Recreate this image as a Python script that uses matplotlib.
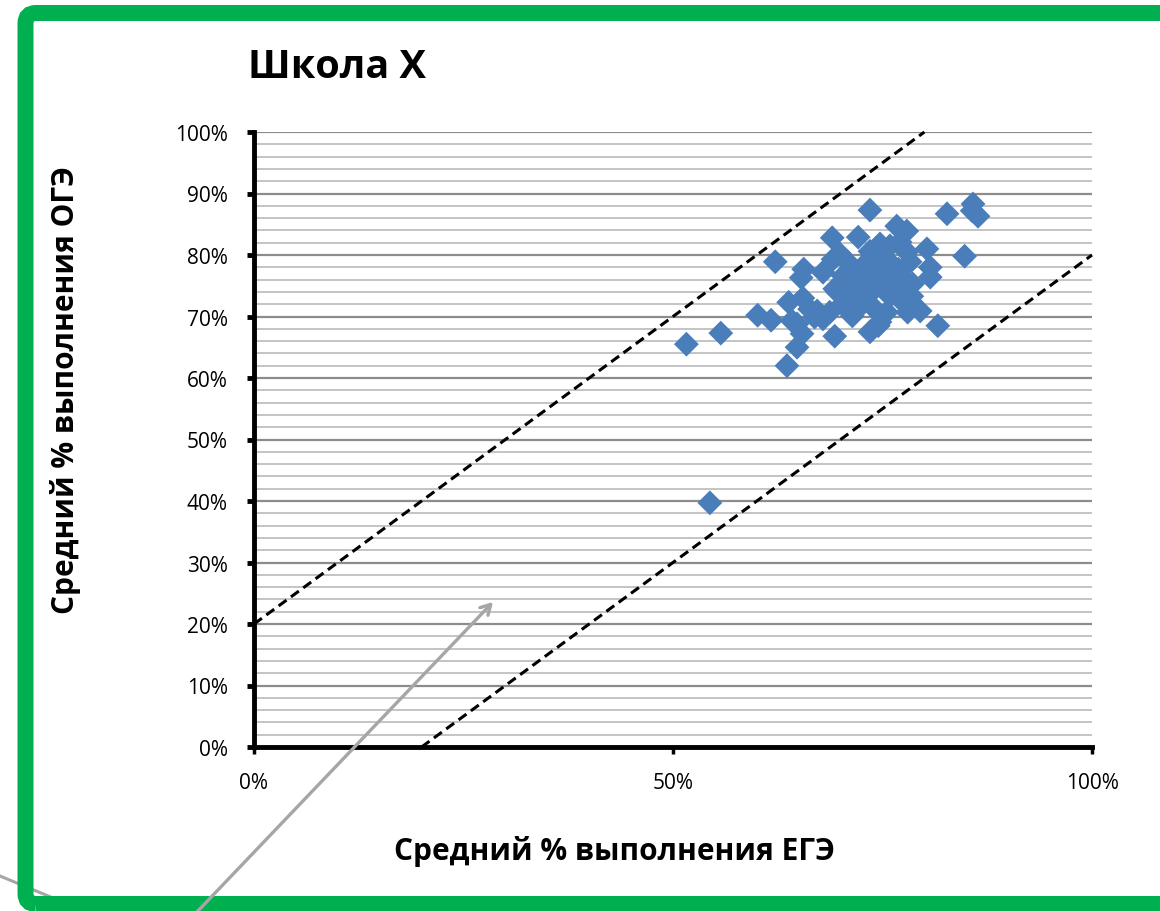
import matplotlib
matplotlib.use("Agg")
import matplotlib.pyplot as plt
from matplotlib.patches import FancyBboxPatch, FancyArrowPatch
from matplotlib.lines import Line2D
import numpy as np

plt.rcParams['font.family'] = ['Open Sans', 'DejaVu Sans']

# ---- data (percent) ----
ege = [51.6, 55.7, 54.4, 63.6, 62.2, 60.1, 61.7, 63.8, 65.5, 65.6, 65.3, 64.2, 65.4, 64.8,
       69.0, 72.1, 73.5, 69.9, 69.1, 67.9, 70.8, 69.3, 67.2, 67.9, 68.7, 69.6, 70.2, 71.4,
       72.3, 73.5, 74.7, 73.5, 74.7, 75.5, 73.9, 74.7, 73.2, 75.5, 76.3, 76.3, 76.7, 77.9,
       77.1, 77.9, 78.3, 78.6, 78.0, 78.0, 79.5, 80.3, 80.7, 80.7, 81.6, 82.7, 84.8, 85.8,
       85.7, 86.4, 71.5, 72.7, 74.3, 72.3, 73.2, 75.9, 70.3, 71.1, 75.9, 77.1, 74.5, 69.3,
       78.3, 78.5, 72.6, 74.1, 71.7, 70.5, 75.3, 73.3, 74.7, 66.9, 64.8, 66.3, 76.3, 77.1,
       76.9]
oge = [65.5, 67.3, 39.7, 62.0, 78.9, 70.2, 69.4, 72.3, 73.0, 77.7, 76.3, 69.3, 67.2, 65.0,
       82.8, 82.9, 87.3, 80.2, 79.3, 77.2, 78.9, 66.8, 70.9, 69.6, 70.7, 74.0, 72.0, 70.1,
       75.6, 80.6, 79.8, 67.5, 69.1, 70.7, 74.5, 75.6, 76.6, 77.2, 78.2, 74.5, 84.7, 83.9,
       82.1, 80.5, 78.9, 75.3, 73.7, 70.7, 70.9, 81.0, 78.0, 76.4, 68.5, 86.7, 79.8, 88.3,
       87.2, 86.3, 77.2, 78.2, 78.2, 73.3, 73.3, 73.3, 76.6, 75.6, 81.5, 76.6, 68.5, 74.5,
       75.0, 73.3, 72.0, 71.2, 73.7, 75.3, 78.5, 79.0, 81.8, 69.9, 68.8, 71.2, 76.1, 72.8,
       77.7]

upper_x = [0, 80]
upper_y = [20, 100]
lower_x = [20, 100]
lower_y = [0, 80]

x_ticks = [0, 50, 100]
x_labels = ['0%', '50%', '100%']
y_ticks = list(range(0, 101, 10))
y_labels = [f'{v}%' for v in y_ticks]

title = 'Школа X'
xlabel = 'Средний % выполнения ЕГЭ'
ylabel = 'Средний % выполнения ОГЭ'

W, H = 1160, 912
fig = plt.figure(figsize=(W / 100, H / 100), dpi=100)
fig.patch.set_facecolor('white')

# decorative gray line behind border
fig.add_artist(Line2D([0 / W, 70 / W], [1 - 877 / H, 1 - 906 / H], transform=fig.transFigure,
                      color='#A6A6A6', lw=2.2, zorder=1))

# green rounded border
border = FancyBboxPatch((25.5 / W, 1 - 905 / H), (W + 40) / W, (905 - 14) / H,
                        boxstyle='round,pad=0,rounding_size=0.009',
                        transform=fig.transFigure, fill=False,
                        edgecolor='#00B050', lw=11.5, zorder=2, mutation_aspect=W / H)
fig.add_artist(border)

ax = fig.add_axes([254 / W, 1 - 748 / H, (1092 - 254) / W, (748 - 133) / H])
ax.set_facecolor('none')
ax.set_xlim(0, 100)
ax.set_ylim(0, 100)

# grid
for v in np.arange(2, 101, 2):
    major = (v % 10 == 0)
    ax.axhline(v, color='#8C8C8C' if major else '#BFBFBF', lw=1.6 if major else 1.3, zorder=1)

ax.plot(upper_x, upper_y, color='black', lw=2.2, ls=(0, (3.2, 1.8)), zorder=3, clip_on=False)
ax.plot(lower_x, lower_y, color='black', lw=2.2, ls=(0, (3.2, 1.8)), zorder=3, clip_on=False)

ax.scatter(ege, oge, marker='D', s=160, color='#4A7EBB', edgecolors='none', zorder=4)

for s in ['top', 'right']:
    ax.spines[s].set_visible(False)
for s in ['left', 'bottom']:
    ax.spines[s].set_linewidth(3.5)
    ax.spines[s].set_color('black')
    ax.spines[s].set_zorder(5)

ax.set_xticks(x_ticks)
ax.set_xticklabels(x_labels, fontsize=15)
ax.set_yticks(y_ticks)
ax.set_yticklabels(y_labels, fontsize=15)
ax.tick_params(axis='y', direction='out', length=5, width=3.5, pad=14)
ax.tick_params(axis='x', direction='out', length=5, width=2.5, pad=13)

fig.text(248 / W, 1 - 68 / H, title, fontsize=28.5, fontweight='bold', va='center', ha='left')
fig.text(614 / W, 1 - 852 / H, xlabel, fontsize=21.5, fontweight='bold', va='center', ha='center')
fig.text(66 / W, 1 - 390 / H, ylabel, fontsize=21.5, fontweight='bold', va='center', ha='center',
         rotation=90)

# gray arrow in front
arr = FancyArrowPatch((195 / W, 1 - 915 / H), (493 / W, 1 - 603 / H), transform=fig.transFigure,
                      arrowstyle='->,head_length=7,head_width=4', color='#A6A6A6', lw=2.4,
                      zorder=6, shrinkA=0, shrinkB=0)
fig.add_artist(arr)

fig.savefig('out.png', dpi=100)
